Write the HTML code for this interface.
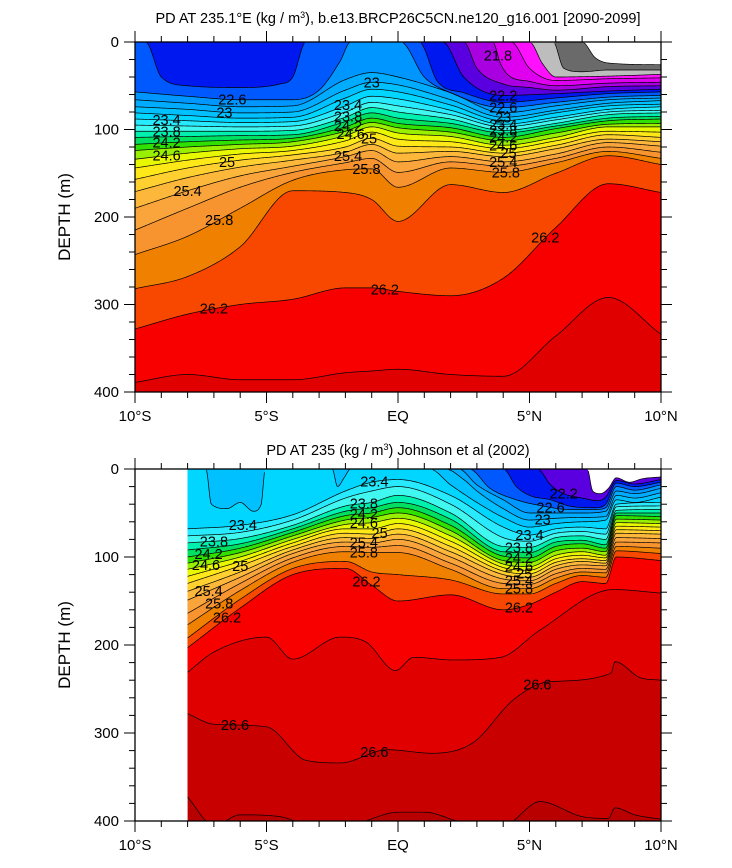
<!DOCTYPE html>
<html><head><meta charset="utf-8"><style>
html,body{margin:0;padding:0;background:#fff;}
svg{display:block;font-family:"Liberation Sans",Arial,sans-serif;}
</style></head><body>
<svg id="chart" width="732" height="868" viewBox="0 0 732 868">
<text x="398" y="23" text-anchor="middle" font-size="14.5">PD AT 235.1°E (kg / m<tspan dy="-5" font-size="9">3</tspan><tspan dy="5">), b.e13.BRCP26C5CN.ne120_g16.001 [2090-2099]</tspan></text>
<text x="398" y="455" text-anchor="middle" font-size="14.5">PD AT 235 (kg / m<tspan dy="-5" font-size="9">3</tspan><tspan dy="5">) Johnson et al (2002)</tspan></text>
<text transform="translate(70,217) rotate(-90)" text-anchor="middle" font-size="17">DEPTH (m)</text>
<text transform="translate(70,645) rotate(-90)" text-anchor="middle" font-size="17">DEPTH (m)</text>
</svg>
<script>
// ===== shared data =====
const bandLower=[-99,21.0,21.2,21.4,21.6,21.8,22.0,22.2,22.4,22.6,22.8,23.0,23.2,23.4,23.6,23.8,24.0,24.2,24.4,24.6,24.8,25.0,25.2,25.4,25.6,25.8,26.0,26.2,26.4,26.6,26.8];
const bandColor=['#ffffff','#6a6a6a','#bdbdbd','#ff10ff','#e000f0','#a800e0','#5a00e0','#0018f0','#0058ff','#0096ff','#00acff','#00c0ff','#00d6ff','#28eaff','#40f8f0','#00f0b0','#00e060','#30e000','#98f000','#e8f800','#ffe818','#ffd030','#fdb83c','#faa43c','#f79430','#f08000','#f84800','#f80000','#e00000','#c80000','#b80000'];
const xTickLats=[-10,-5,0,5,10];
const xTickLabels=['10°S','5°S','EQ','5°N','10°N'];
const yTickDepths=[0,100,200,300,400];

// ===== top plot data (model) =====
const TL=[-10,-8,-6,-4,-2,-1,0,2,4,6,8,10];
const topLevels=[21.0,21.2,21.4,21.6,21.8,22.0,22.2,22.4,22.6,22.8,23.0,23.2,23.4,23.6,23.8,24.0,24.2,24.4,24.6,24.8,25.0,25.2,25.4,25.6,25.8,26.0,26.2,26.4];
const topLats=[
[-10,7.0,7.5,8,10],
[-10,5.9,6.3,7,8,10],
[-10,5.0,5.5,6,8,10],
[-10,4.3,5,6,8,10],
[-10,3.6,3.9,4.2,5,6,8,10],
[-10,2.5,3,4,5,6,8,10],
[-10,1.7,2.5,4,6,8,10],
[-10,-9.6,-9,-8,-6,-4.5,-4,-3.5,0.8,1.5,2.5,4,6,8,10],
[-10,-8,-6,-4,-3,-2.2,-1.8,0.1,1,2,4,6,8,10],
TL,TL,TL,TL,TL,TL,TL,TL,TL,TL,TL,TL,TL,TL,TL,TL,TL,TL,TL];
const topDepths=[
[0,0,18,24,26],
[0,0,30,34,32,32],
[0,0,25,40,39,37],
[0,0,30,44,42,41],
[0,0,25,38,45,50,47,46],
[0,0,30,48,52,55,51,50],
[0,0,40,61,59,56,54],
[0,0,40,50,52,48,40,0,0,45,58,69,64,59,57],
[57,62,66,66,55,22,0,0,40,58,75,69,63,61],
[66,70,74,73,43,35,40,58,81,73,66,64],
[74,77,81,80,55,46,49,66,86,78,70,67],
[81,84,87,86,64,54,57,72,90,81,73,71],
[88,90,92,91,73,62,65,78,94,86,77,74],
[95,96,97,96,80,69,73,83,97,89,80,78],
[102,102,102,101,86,75,80,88,101,93,83,81],
[109,108,107,106,91,81,87,93,104,96,87,85],
[117,114,112,110,97,87,93,98,109,99,90,88],
[124,120,117,114,102,92,98,103,113,104,94,93],
[134,127,122,119,107,97,104,108,118,109,97,97],
[144,135,128,124,113,103,111,114,122,113,102,103],
[157,144,135,129,120,110,119,120,127,118,106,109],
[171,155,143,135,126,117,127,125,131,122,111,114],
[190,170,153,142,131,124,137,131,137,128,115,119],
[215,190,166,149,138,133,149,137,142,133,120,126],
[243,222,190,158,146,145,166,144,149,138,125,133],
[282,268,234,170,172,180,205,163,172,150,130,140],
[328,311,300,294,281,281,285,290,270,212,162,172],
[389,380,386,386,378,376,374,380,382,336,292,334]];
const topLabels=[[22.6,-6.3],[23,-6.6],[23.4,-8.8],[23.8,-8.8],[24.2,-8.8],[24.6,-8.8],[25,-6.5],[25.4,-8],[25.8,-6.8],[26.2,-7],[23,-1],[23.4,-1.9],[23.8,-1.9],[24.2,-1.9],[24.6,-1.8],[25,-1.1],[25.4,-1.9],[25.8,-1.2],[26.2,-0.5],[21.8,3.8],[22.2,4],[22.6,4],[23,4],[23.4,4],[23.8,4],[24.2,4],[24.6,4],[25,4.2],[25.4,4],[25.8,4.1],[26.2,5.6]];

// ===== bottom plot data (observations) =====
const BL=[-8,-6,-4,-2,-1,0,2,4,5,6,7,7.9,8.3,10];
const botLevels=[22.0,22.2,22.4,22.6,22.8,23.0,23.2,23.4,23.6,23.8,24.0,24.2,24.4,24.6,24.8,25.0,25.2,25.4,25.6,25.8,26.0,26.2,26.4,26.6,26.8];
const botLats=[
[-8,7.2,7.4,7.7,8.0,8.3,8.8,9.3,10],
[-8,5.3,5.8,6.3,7,7.6,7.9,8.3,9,10],
[-8,4.0,4.5,5,5.8,6.5,7.5,7.9,8.3,9,10],
[-8,2.7,3.5,4.5,5.5,6.5,7.5,7.9,8.3,9,10],
[-8,2.3,3,4,5,6,7,7.9,8.3,9,10],
[-8,1.8,2.5,3,4,5,6,7,7.9,8.3,9,10],
[-8,-7.3,-7.1,-6.5,-6,-5.5,-5.2,-5.05,-2.5,-2.3,-2.05,-1.8,1.2,2,3,4,5,6,7,7.9,8.3,9,10],
BL,BL,BL,BL,BL,BL,BL,BL,BL,BL,BL,BL,BL,BL,BL,
[-8,-7,-5,-4,-2.2,-1.2,-0.1,0.6,2.1,3.9,5.4,8.2,10],
[-8,-7,-5,-3.5,-2.2,-0.4,1.3,2.85,4.4,5.7,8.1,8.25,9.2,10],
[-8,-7,-6,-4.5,-3,-1.5,0,1,2.5,4,5.4,7,8,8.25,9,10]];
const botDepths=[
[0,0,25,28,22,10,15,11,9],
[0,0,18,28,33,36,32,13,17,12],
[0,0,20,30,35,42,44,40,16,20,15],
[0,0,22,35,42,46,46,44,20,24,18],
[0,0,18,35,50,50,50,48,25,28,22],
[0,0,12,25,45,58,56,55,54,30,33,27],
[0,0,40,45,38,48,40,0,0,20,10,0,0,18,38,55,66,62,60,58,35,38,32],
[68,64,52,25,15,12,30,66,75,68,66,68,40,38],
[76,72,58,33,25,20,40,78,82,73,71,74,43,42],
[84,79,64,42,38,30,50,88,89,78,76,80,47,46],
[92,85,68,48,44,38,57,94,95,83,81,86,50,50],
[100,90,72,53,50,44,64,99,101,88,85,90,53,54],
[107,95,76,58,55,50,70,104,106,93,90,94,57,58],
[114,100,80,63,61,56,76,108,111,98,94,98,61,62],
[122,105,84,68,68,62,82,112,115,102,98,101,65,66],
[130,110,88,73,74,68,88,116,119,106,102,104,69,70],
[139,117,92,78,79,74,94,120,123,110,105,107,73,74],
[149,123,96,83,84,80,100,125,127,114,109,110,78,79],
[164,130,101,88,89,87,107,130,131,119,113,114,83,84],
[177,138,106,94,95,95,114,136,136,124,117,118,88,90],
[192,148,113,105,117,120,126,142,142,130,121,123,93,96],
[203,158,120,113,132,150,143,160,154,140,128,130,100,104],
[231,208,191,216,191,197,229,214,217,214,183,137,141],
[278,290,293,331,334,319,323,311,262,242,232,219,237,240],
[373,405,393,395,408,402,390,390,402,405,378,395,397,385,393,398]];
const botLabels=[[23.4,-5.9],[23.8,-7],[24.2,-7.2],[24.6,-7.3],[25,-6],[25.4,-7.2],[25.8,-6.8],[26.2,-6.5],[23.4,-0.9],[23.8,-1.3],[24.2,-1.3],[24.6,-1.3],[25,-0.7],[25.4,-1.3],[25.8,-1.3],[26.2,-1.2],[22.2,6.3],[22.6,5.8],[23,5.5],[23.4,5],[23.8,4.6],[24.2,4.6],[24.6,4.6],[25,4.8],[25.4,4.6],[25.8,4.6],[26.2,4.6],[26.6,-6.2],[26.6,-0.9],[26.6,5.3]];

// ===== helpers =====
const NS='http://www.w3.org/2000/svg';
const svg=document.getElementById('chart');
function mk(tag,attrs,parent){const e=document.createElementNS(NS,tag);for(const k in attrs)e.setAttribute(k,attrs[k]);(parent||svg).appendChild(e);return e;}
function mono(xs,ys){
  const n=xs.length;if(n<2)return()=>ys[0];
  const dl=[],m=new Array(n);
  for(let i=0;i<n-1;i++)dl.push((ys[i+1]-ys[i])/(xs[i+1]-xs[i]));
  m[0]=dl[0];m[n-1]=dl[n-2];
  for(let i=1;i<n-1;i++){m[i]=(dl[i-1]*dl[i]<=0)?0:(dl[i-1]+dl[i])/2;}
  for(let i=0;i<n-1;i++){if(dl[i]===0){m[i]=0;m[i+1]=0;continue;}
    const a=m[i]/dl[i],b=m[i+1]/dl[i],s=a*a+b*b;if(s>9){const t=3/Math.sqrt(s);m[i]=t*a*dl[i];m[i+1]=t*b*dl[i];}}
  return function(x){let i=0;while(i<n-2&&x>xs[i+1])i++;
    const h=xs[i+1]-xs[i],t=(x-xs[i])/h,t2=t*t,t3=t2*t;
    return (2*t3-3*t2+1)*ys[i]+(t3-2*t2+t)*h*m[i]+(-2*t3+3*t2)*ys[i+1]+(t3-t2)*h*m[i+1];};
}
function colorAbove(levels,idx){
  const lo=idx>0?levels[idx-1]:-99;let c=bandColor[0];
  for(let i=0;i<bandLower.length;i++)if(bandLower[i]<=lo+1e-6)c=bandColor[i];return c;}
function colorBelowTop(levels){const hi=levels[levels.length-1];let c=bandColor[0];
  for(let i=0;i<bandLower.length;i++)if(bandLower[i]<=hi+1e-6)c=bandColor[i];return c;}

function drawPlot(cfg){
  const x=lat=>cfg.x0+(lat+10)*(cfg.x1-cfg.x0)/20;
  const y=d=>cfg.y0+d*(cfg.y1-cfg.y0)/400;
  const g=mk('g',{});
  
  
  const clipId=cfg.name+'-clip';
  const defs=mk('defs',{},g);const cp=mk('clipPath',{id:clipId},defs);
  mk('rect',{x:cfg.x0,y:cfg.y0,width:cfg.x1-cfg.x0,height:cfg.y1-cfg.y0},cp);
  const fills=mk('g',{'clip-path':'url(#'+clipId+')'},g);
  
  
  const bg=mk('rect',{x:x(cfg.latMin),y:cfg.y0,width:x(10)-x(cfg.latMin),height:cfg.y1-cfg.y0,fill:colorBelowTop(cfg.levels)},fills);
  
  
  const fns=cfg.levels.map((lv,i)=>mono(cfg.lats[i],cfg.depths[i]));
  const samples=cfg.levels.map((lv,i)=>{const xs=cfg.lats[i],pts=[];const a=xs[0],b=xs[xs.length-1];
    for(let t=a;t<b;t+=0.04)pts.push([t,Math.max(0,fns[i](t))]);pts.push([b,Math.max(0,cfg.depths[i][xs.length-1])]);return pts;});
  for(let i=cfg.levels.length-1;i>=0;i--){
    const pts=samples[i];
    let dstr='M'+x(pts[0][0]).toFixed(2)+','+y(0).toFixed(2);
    pts.forEach(p=>{dstr+='L'+x(p[0]).toFixed(2)+','+y(p[1]).toFixed(2);});
    dstr+='L'+x(pts[pts.length-1][0]).toFixed(2)+','+y(0).toFixed(2)+'Z';
    const band=mk('path',{d:dstr,fill:colorAbove(cfg.levels,i),stroke:'none'},fills);
    
    
  }
  const lines=mk('g',{'clip-path':'url(#'+clipId+')',fill:'none',stroke:'#000','stroke-width':'0.7'},g);
  
  
  cfg.levels.forEach((lv,i)=>{
    let dstr='',pen=false;
    samples[i].forEach(p=>{if(p[1]>0.4){dstr+=(pen?'L':'M')+x(p[0]).toFixed(2)+','+y(p[1]).toFixed(2);pen=true;}else pen=false;});
    if(!dstr)return;
    const ln=mk('path',{d:dstr},lines);
    
    
  });
  cfg.labels.forEach(lb=>{
    const idx=cfg.levels.findIndex(v=>Math.abs(v-lb[0])<1e-6);if(idx<0)return;
    const d=Math.max(0,fns[idx](lb[1]));
    const t=mk('text',{x:x(lb[1]),y:y(d)+5,'text-anchor':'middle','font-size':'14.5',fill:'#000'},g);
    t.textContent=String(lb[0]);
    
    
  });
  const fr=mk('rect',{x:cfg.x0,y:cfg.y0,width:cfg.x1-cfg.x0,height:cfg.y1-cfg.y0,fill:'none',stroke:'#000','stroke-width':'1.3'},g);
  
  
  const ax=mk('g',{stroke:'#000','stroke-width':'1'},g);
  
  
  for(let lat=-10;lat<=10;lat++){const maj=lat%5===0,L=maj?11:6;const xx=x(lat);
    mk('line',{x1:xx,x2:xx,y1:cfg.y1,y2:cfg.y1+L},ax);mk('line',{x1:xx,x2:xx,y1:cfg.y0,y2:cfg.y0-L},ax);}
  for(let dd=0;dd<=400;dd+=20){const maj=dd%100===0,L=maj?11:6;const yy=y(dd);
    mk('line',{x1:cfg.x0,x2:cfg.x0-L,y1:yy,y2:yy},ax);mk('line',{x1:cfg.x1,x2:cfg.x1+L,y1:yy,y2:yy},ax);}
  xTickLats.forEach((lat,i)=>{const t=mk('text',{x:x(lat),y:cfg.y1+29,'text-anchor':'middle','font-size':'15'},g);
    t.textContent=xTickLabels[i];
    
    });
  yTickDepths.forEach(dd=>{const t=mk('text',{x:cfg.x0-16,y:y(dd)+5,'text-anchor':'end','font-size':'15'},g);
    t.textContent=String(dd);
    
    });
}
drawPlot({name:'model',x0:135,x1:661,y0:42,y1:392,latMin:-10,levels:topLevels,lats:topLats,depths:topDepths,labels:topLabels});
drawPlot({name:'johnson',x0:135,x1:661,y0:469,y1:821,latMin:-8,levels:botLevels,lats:botLats,depths:botDepths,labels:botLabels});
</script>
</body></html>
